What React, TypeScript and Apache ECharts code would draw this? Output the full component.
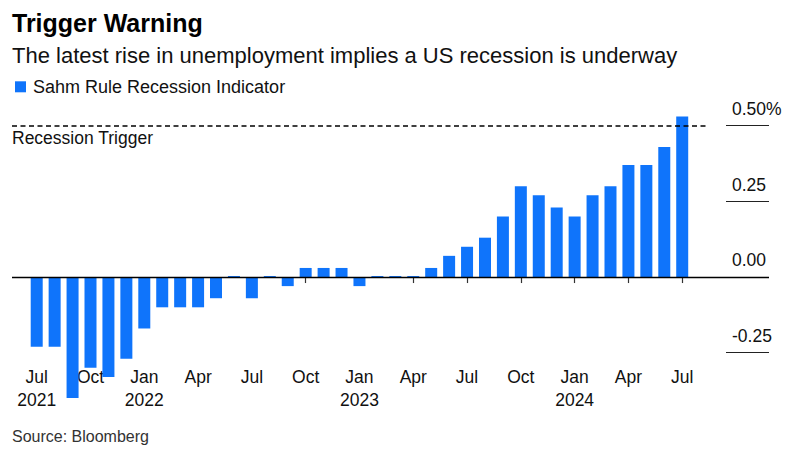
import React, { useEffect, useRef } from 'react';
import * as echarts from 'echarts';

// Monthly categories, Jul 2021 – Jul 2024
const months: string[] = [
  '2021-07', '2021-08', '2021-09', '2021-10', '2021-11', '2021-12',
  '2022-01', '2022-02', '2022-03', '2022-04', '2022-05', '2022-06',
  '2022-07', '2022-08', '2022-09', '2022-10', '2022-11', '2022-12',
  '2023-01', '2023-02', '2023-03', '2023-04', '2023-05', '2023-06',
  '2023-07', '2023-08', '2023-09', '2023-10', '2023-11', '2023-12',
  '2024-01', '2024-02', '2024-03', '2024-04', '2024-05', '2024-06',
  '2024-07',
];

// Sahm Rule Recession Indicator (percentage points)
const sahmValues: number[] = [
  -0.23, -0.23, -0.40, -0.30, -0.33, -0.27,
  -0.17, -0.10, -0.10, -0.10, -0.07, 0.0,
  -0.07, 0.0, -0.03, 0.03, 0.03, 0.03,
  -0.03, 0.0, 0.0, 0.0, 0.03, 0.07,
  0.10, 0.13, 0.20, 0.30, 0.27, 0.23,
  0.20, 0.27, 0.30, 0.37, 0.37, 0.43,
  0.53,
];

const yTicks: number[] = [-0.25, 0, 0.25, 0.5];
const tickMonths: string[] = ['01', '04', '07', '10'];
const monthNames: Record<string, string> = { '01': 'Jan', '04': 'Apr', '07': 'Jul', '10': 'Oct' };
const TRIGGER = 0.5;

const FONT = '"Liberation Sans", Arial, Helvetica, sans-serif';
const BLUE = '#0f74fb';

export default function App() {
  const ref = useRef<HTMLDivElement>(null);

  useEffect(() => {
    document.body.style.margin = '0';
    if (!ref.current) return;
    const chart = echarts.init(ref.current, null, { renderer: 'svg' });

    const tickIdx = months
      .map((m, i) => (tickMonths.includes(m.slice(5)) ? i : -1))
      .filter((i) => i >= 0);

    const xMin = -1.378;
    const xMax = 40.84;
    const triggerEnd = months.length - 1 + 1.46;

    const option: echarts.EChartsOption = {
      animation: false,
      textStyle: { fontFamily: FONT },
      title: [
        {
          text: 'Trigger Warning',
          left: 12,
          top: 10.5,
          padding: 0,
          textStyle: { fontFamily: FONT, fontSize: 25, fontWeight: 'bold', color: '#000', lineHeight: 25 },
        },
        {
          text: 'The latest rise in unemployment implies a US recession is underway',
          left: 12,
          top: 44.5,
          padding: 0,
          textStyle: { fontFamily: FONT, fontSize: 22, fontWeight: 'normal', color: '#111', lineHeight: 22 },
        },
        {
          text: 'Source: Bloomberg',
          left: 12,
          top: 428.7,
          padding: 0,
          textStyle: { fontFamily: FONT, fontSize: 16, fontWeight: 'normal', color: '#333', lineHeight: 16 },
        },
      ],
      legend: {
        data: ['Sahm Rule Recession Indicator'],
        left: 15,
        top: 77.8,
        padding: 0,
        itemWidth: 11,
        itemHeight: 11,
        icon: 'rect',
        itemGap: 10,
        textStyle: { fontFamily: FONT, fontSize: 18, color: '#111', padding: [0, 0, 0, 2] },
      },
      grid: [
        { left: 12, right: 43, top: 125.7, bottom: 118.3 },
        { left: 726, right: 43, top: 125.7, bottom: 118.3 },
      ],
      xAxis: [
        {
          type: 'value',
          gridIndex: 0,
          min: xMin,
          max: xMax,
          axisLine: { show: false },
          splitLine: { show: false },
          axisTick: {
            show: true,
            customValues: tickIdx,
            length: 6,
            lineStyle: { color: '#333', width: 1.2 },
          },
          axisLabel: {
            customValues: tickIdx,
            margin: 13.3,
            fontFamily: FONT,
            fontSize: 17.5,
            lineHeight: 22.4,
            color: '#111',
            formatter: (v: number) => {
              const i = Math.round(v);
              const m = months[i];
              if (!m) return '';
              const mm = m.slice(5);
              const name = monthNames[mm] || '';
              if (i === 0 || mm === '01') return name + '\n' + m.slice(0, 4);
              return name;
            },
          },
        },
        { type: 'value', gridIndex: 1, show: false, min: 0, max: 1 },
      ],
      yAxis: [
        {
          type: 'value',
          gridIndex: 0,
          min: yTicks[0],
          max: yTicks[yTicks.length - 1],
          interval: 0.25,
          show: false,
        },
        {
          type: 'value',
          gridIndex: 1,
          position: 'left',
          min: yTicks[0],
          max: yTicks[yTicks.length - 1],
          interval: 0.25,
          axisLine: { show: false },
          axisTick: { show: false },
          splitLine: { show: true, lineStyle: { color: '#222', width: 1.2 } },
          axisLabel: {
            inside: true,
            margin: 6,
            fontFamily: FONT,
            fontSize: 17.5,
            lineHeight: 17.5,
            color: '#111',
            verticalAlign: 'bottom',
            padding: [0, 0, 8, 0],
            showMinLabel: true,
            showMaxLabel: true,
            formatter: (v: number) => (Math.abs(v - 0.5) < 1e-9 ? '0.50%' : v.toFixed(2)),
          },
        },
      ],
      series: [
        {
          type: 'line',
          xAxisIndex: 0,
          yAxisIndex: 0,
          data: [],
          z: 1,
          silent: true,
          markLine: {
            silent: true,
            symbol: 'none',
            animation: false,
            data: [
              {
                yAxis: 0,
                lineStyle: { color: '#000', width: 1.3, type: 'solid' },
                label: { show: false },
              },
              [
                {
                  coord: [xMin, TRIGGER],
                  lineStyle: { color: '#000', width: 1.5, type: [5, 3.5] },
                  label: {
                    show: true,
                    formatter: 'Recession Trigger',
                    position: 'insideStartBottom',
                    distance: [0, 3],
                    fontFamily: FONT,
                    fontSize: 17.5,
                    color: '#111',
                  },
                },
                { coord: [triggerEnd, TRIGGER] },
              ] as any,
            ],
          },
        },
        {
          name: 'Sahm Rule Recession Indicator',
          type: 'bar',
          xAxisIndex: 0,
          yAxisIndex: 0,
          data: sahmValues.map((v, i) => [i, v]),
          barWidth: 12,
          barMinHeight: 1,
          clip: false,
          z: 3,
          itemStyle: { color: BLUE },
        },
      ],
    };

    chart.setOption(option);
    return () => chart.dispose();
  }, []);

  return <div ref={ref} style={{ width: 812, height: 471 }} />;
}
